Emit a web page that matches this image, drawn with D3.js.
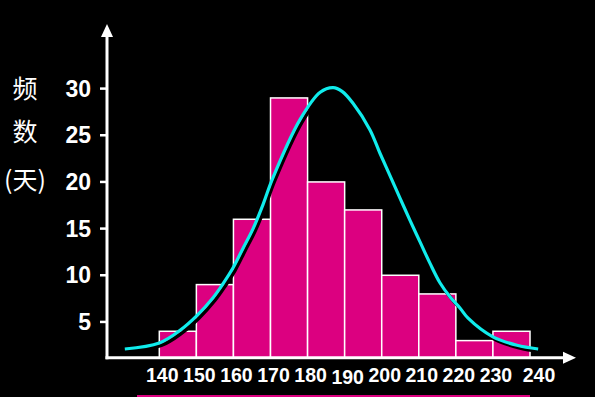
<!DOCTYPE html>
<html>
<head>
<meta charset="utf-8">
<script src="https://cdn.jsdelivr.net/npm/d3@7"></script>
<style>
  html, body { margin: 0; padding: 0; background: #000; }
  svg { display: block; }
  .tick-label { fill: #fff; font-family: "Liberation Sans", Arial, sans-serif; font-weight: bold; }
  .ylab { fill: #fff; font-family: "Noto Sans CJK SC", sans-serif; font-size: 25px; }
</style>
</head>
<body>
<div id="chart"></div>
<script>
// bins (left edges) and frequencies (days)
var binStarts = [140, 150, 160, 170, 180, 190, 200, 210, 220, 230];
var binWidth = 10;
var counts = [4, 9, 16, 29, 20, 17, 10, 8, 3, 4];

var xTicks = [140, 150, 160, 170, 180, 190, 200, 210, 220, 230, 240];
var yTicks = [5, 10, 15, 20, 25, 30];

// fitted curve
var curveX = [130.7, 140, 145.6, 150.2, 154.5, 157.2, 159.9, 162.6, 165.3, 168.0, 170.5, 178, 183.4, 186.9, 189.3, 192.3, 196.8, 199.5, 202.2, 204.9, 207.6, 210.3, 213, 215.7, 218.4, 221.1, 223.3, 230, 236.5, 242.2];
var curveY = [2.1, 2.75, 4.1, 5.7, 7.6, 9.1, 10.8, 12.9, 15.0, 17.6, 20.3, 26.7, 29.6, 30.1, 29.7, 28.4, 25.6, 23.1, 20.7, 18.3, 15.9, 13.6, 11.3, 9.2, 7.7, 6.5, 5.4, 3.4, 2.5, 2.1];

var W = 595, H = 397;
var yBase = 1.15; // value where the x axis sits

var svg = d3.select("#chart").append("svg")
	.attr("width", W)
	.attr("height", H);

svg.append("rect").attr("width", W).attr("height", H).style("fill", "#000");

var x = d3.scaleLinear().domain([140, 240]).range([159.3, 530]);
var y = d3.scaleLinear().domain([0, 30]).range([368.6, 88.6]);

var axisX0 = 107, axisY0 = y(yBase);

// bars
svg.append("g").selectAll("rect")
	.data(binStarts)
	.enter().append("rect")
	.attr("x", function(d) { return x(d); })
	.attr("width", function(d) { return x(d + binWidth) - x(d); })
	.attr("y", function(d, i) { return y(counts[i]); })
	.attr("height", function(d, i) { return axisY0 - y(counts[i]); })
	.style("fill", "#dc0080")
	.style("stroke", "#fff")
	.style("stroke-width", 1.5);

// curve with shadow
var pts = curveX.map(function(v, i) { return [v, curveY[i]]; });
var line = d3.line()
	.x(function(d) { return x(d[0]); })
	.y(function(d) { return y(d[1]); })
	.curve(d3.curveCatmullRom.alpha(0.5));

svg.append("path")
	.attr("d", line(pts))
	.attr("transform", "translate(2,2.5)")
	.style("fill", "none")
	.style("stroke", "#000")
	.style("stroke-width", 3.5);

svg.append("path")
	.attr("d", line(pts))
	.style("fill", "none")
	.style("stroke", "#10ecec")
	.style("stroke-width", 3.2);

// axes
svg.append("line")
	.attr("x1", axisX0).attr("y1", axisY0 + 1.5)
	.attr("x2", axisX0).attr("y2", 34)
	.style("stroke", "#fff").style("stroke-width", 3);
svg.append("path")
	.attr("d", "M" + (axisX0 - 6) + ",37 L" + axisX0 + ",24 L" + (axisX0 + 6) + ",37 Z")
	.style("fill", "#fff");

svg.append("line")
	.attr("x1", axisX0 - 1.5).attr("y1", axisY0)
	.attr("x2", 565).attr("y2", axisY0)
	.style("stroke", "#fff").style("stroke-width", 3);
svg.append("path")
	.attr("d", "M563," + (axisY0 - 6) + " L576," + axisY0 + " L563," + (axisY0 + 6) + " Z")
	.style("fill", "#fff");

// y ticks
var yt = svg.append("g");
yt.selectAll("line")
	.data(yTicks)
	.enter().append("line")
	.attr("x1", axisX0 - 7).attr("x2", axisX0)
	.attr("y1", function(d) { return y(d); })
	.attr("y2", function(d) { return y(d); })
	.style("stroke", "#fff").style("stroke-width", 2.5);
yt.selectAll("text")
	.data(yTicks)
	.enter().append("text")
	.attr("class", "tick-label")
	.attr("x", 91)
	.attr("y", function(d) { return y(d) + 8; })
	.attr("text-anchor", "end")
	.style("font-size", "23px")
	.text(function(d) { return d; });

// x tick labels
svg.append("g").selectAll("text")
	.data(xTicks)
	.enter().append("text")
	.attr("class", "tick-label")
	.attr("x", function(d) { return x(d) + (d == 240 ? 9 : 3); })
	.attr("y", function(d) { return d == 190 ? 384 : 382; })
	.attr("text-anchor", "middle")
	.style("font-size", "19.5px")
	.text(function(d) { return d; });

// y title
svg.append("text").attr("class", "ylab").attr("x", 25).attr("y", 98).attr("text-anchor", "middle").text("频");
svg.append("text").attr("class", "ylab").attr("x", 25).attr("y", 141).attr("text-anchor", "middle").text("数");
svg.append("text").attr("class", "ylab").attr("x", 25).attr("y", 189).attr("text-anchor", "middle").text("(天)");

// magenta rule at bottom
svg.append("rect")
	.attr("x", 137).attr("y", 395)
	.attr("width", 530 - 137).attr("height", 2)
	.style("fill", "#dc0080");
</script>
</body>
</html>
